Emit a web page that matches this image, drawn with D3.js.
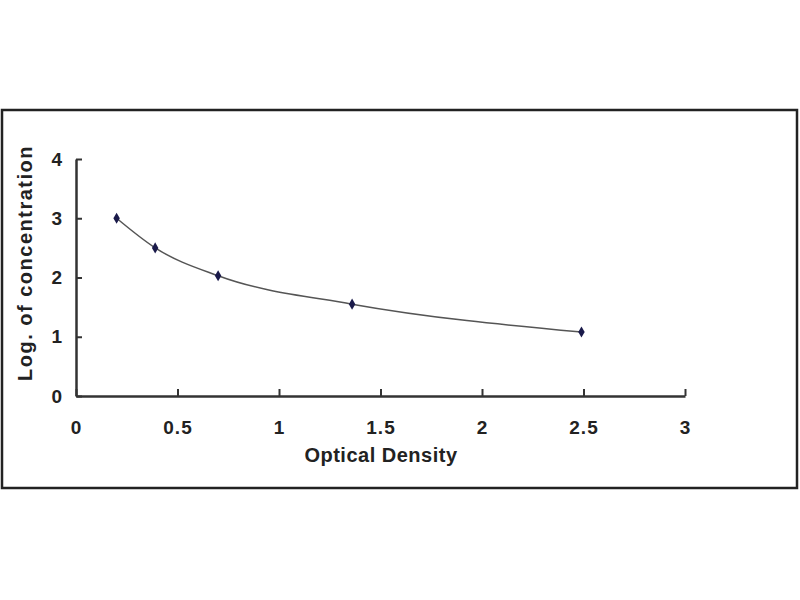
<!DOCTYPE html>
<html>
<head>
<meta charset="utf-8">
<script src="https://cdn.jsdelivr.net/npm/d3@7"></script>
<style>
  body { margin: 0; background: #fff; }
  svg text { font-family: "Liberation Sans", Arial, sans-serif; font-weight: bold; fill: #222; }
</style>
</head>
<body>
<div id="chart"></div>
<script>
// Standard curve readings
const opticalDensity = [0.2, 0.39, 0.70, 1.36, 2.49];
const logConcentration = [3.0, 2.5, 2.03, 1.55, 1.08];
const xTicks = [0, 0.5, 1, 1.5, 2, 2.5, 3];
const yTicks = [0, 1, 2, 3, 4];

const points = opticalDensity.map((d, i) => ({ x: d, y: logConcentration[i] }));

const svg = d3.select('#chart')
  .append('svg')
  .attr('width', 800)
  .attr('height', 600);

// outer frame
svg.append('rect')
  .attr('x', 2).attr('y', 110)
  .attr('width', 795).attr('height', 378)
  .attr('fill', 'none')
  .attr('stroke', '#222')
  .attr('stroke-width', 2.5);

const margin = { left: 76, right: 115, top: 159, bottom: 204 };

const x = d3.scaleLinear().domain([0, 3]).range([margin.left, 800 - margin.right]);
const y = d3.scaleLinear().domain([0, 4]).range([600 - margin.bottom, margin.top]);

// x axis, ticks pointing up
const xAxis = svg.append('g')
  .attr('transform', `translate(0,${y(0)})`)
  .call(d3.axisTop(x).tickValues(xTicks).tickSize(7).tickSizeOuter(0).tickFormat(d3.format('')));
xAxis.select('.domain').attr('stroke', '#333').attr('stroke-width', 2.5);
xAxis.selectAll('.tick line').attr('stroke', '#333').attr('stroke-width', 2);
xAxis.selectAll('.tick text')
  .attr('y', 38)
  .style('font-size', '19px')
  .style('letter-spacing', '1px');

// y axis, ticks pointing right
const yAxis = svg.append('g')
  .attr('transform', `translate(${x(0)},0)`)
  .call(d3.axisRight(y).tickValues(yTicks).tickSize(6).tickSizeOuter(0).tickFormat(d3.format('d')));
yAxis.select('.domain').attr('stroke', '#333').attr('stroke-width', 2.5);
yAxis.selectAll('.tick line').attr('stroke', '#333').attr('stroke-width', 2);
yAxis.selectAll('.tick text')
  .attr('x', -14)
  .attr('text-anchor', 'end')
  .style('font-size', '19px');

// fitted curve through the standards
const line = d3.line()
  .x(d => x(d.x))
  .y(d => y(d.y))
  .curve(d3.curveMonotoneX);

svg.append('path')
  .datum(points)
  .attr('d', line)
  .attr('fill', 'none')
  .attr('stroke', '#555')
  .attr('stroke-width', 1.5);

svg.selectAll('.pt')
  .data(points)
  .enter().append('path')
  .attr('class', 'pt')
  .attr('d', d3.symbol().type(d3.symbolDiamond).size(36))
  .attr('transform', d => `translate(${x(d.x)},${y(d.y)})`)
  .attr('fill', '#1a1a4a');

// axis titles
svg.append('text')
  .attr('x', 381)
  .attr('y', 462)
  .attr('text-anchor', 'middle')
  .style('font-size', '20px')
  .style('letter-spacing', '0.5px')
  .text('Optical Density');

svg.append('text')
  .attr('transform', 'translate(32,263) rotate(-90)')
  .attr('text-anchor', 'middle')
  .style('font-size', '20px')
  .style('letter-spacing', '1.5px')
  .text('Log. of concentration');
</script>
</body>
</html>
